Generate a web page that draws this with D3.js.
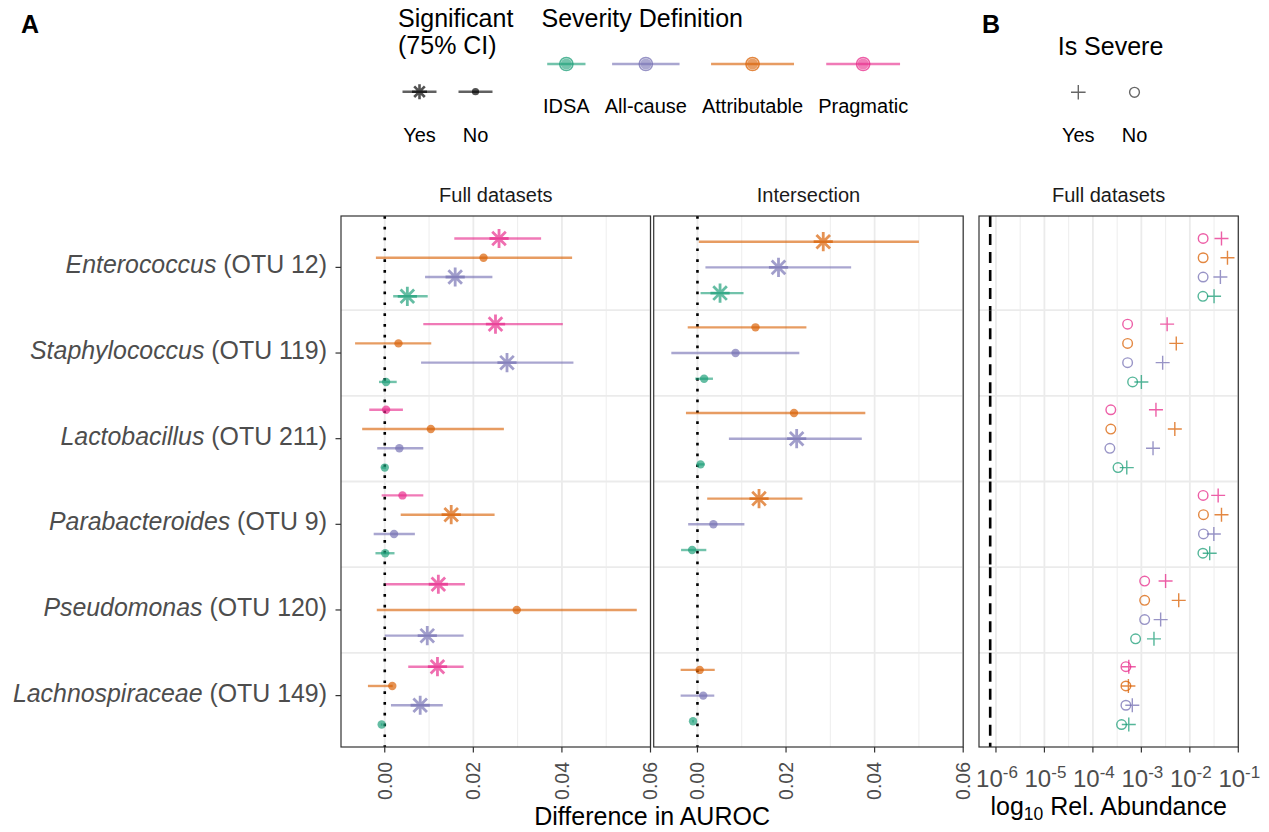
<!DOCTYPE html>
<html><head><meta charset="utf-8">
<script src="https://cdn.jsdelivr.net/npm/d3@7"></script>
<style>
body{margin:0;background:#fff}
svg{display:block}
text{font-family:"Liberation Sans",Arial,Helvetica,sans-serif}
</style>
</head><body>
<svg id="c" width="1269" height="832"></svg>
<script>
// ---------- data ----------
const categories = ["Enterococcus","Staphylococcus","Lactobacillus","Parabacteroides","Pseudomonas","Lachnospiraceae"];
const otuLabels = ["(OTU 12)","(OTU 119)","(OTU 211)","(OTU 9)","(OTU 120)","(OTU 149)"];
const severities = ["IDSA","All-cause","Attributable","Pragmatic"];
const severityColors = ["#1B9E77","#7570B3","#D95F02","#E7298A"];
const panelNamesA = ["Full datasets","Intersection"];
const panelNameB = "Full datasets";
const xTicksA = [0, 0.02, 0.04, 0.06];
const xTickLabelsA = ["0.00","0.02","0.04","0.06"];
const xMinorA = [0.01, 0.03, 0.05];
const xTicksB = [1e-6, 1e-5, 1e-4, 1e-3, 1e-2, 1e-1];
const xTickExpB = ["-6","-5","-4","-3","-2","-1"];
const sigLabels = ["Yes","No"];
const severeLabels = ["Yes","No"];
const detectionLimit = 7.6e-7;

// rows = categories, columns = IDSA, All-cause, Attributable, Pragmatic
const fullEst = [
  [0.0051, 0.0159, 0.0223, 0.0258],
  [0.0003, 0.0276, 0.0031, 0.0250],
  [0.0000, 0.0033, 0.0104, 0.0003],
  [0.0001, 0.0021, 0.0150, 0.0040],
  [null,   0.0096, 0.0298, 0.0121],
  [-0.0007,0.0080, 0.0017, 0.0119]
];
const fullLo = [
  [0.0019, 0.0091, -0.0020, 0.0157],
  [-0.0013,0.0082, -0.0067, 0.0087],
  [-0.0007,-0.0017,-0.0051,-0.0035],
  [-0.0021,-0.0025, 0.0036,-0.0007],
  [null,   0.0000, -0.0018, 0.0002],
  [-0.0009,0.0014, -0.0038, 0.0053]
];
const fullHi = [
  [0.0097, 0.0243, 0.0423, 0.0353],
  [0.0027, 0.0426, 0.0105, 0.0402],
  [0.0003, 0.0087, 0.0269, 0.0041],
  [0.0022, 0.0068, 0.0248, 0.0087],
  [null,   0.0178, 0.0569, 0.0181],
  [-0.0005,0.0131, 0.0018, 0.0178]
];
const fullSig = [
  [1,1,0,1],
  [0,1,0,1],
  [0,0,0,0],
  [0,0,1,0],
  [null,1,0,1],
  [0,1,0,1]
];
const intEst = [
  [0.0051, 0.0183, 0.0284, null],
  [0.0015, 0.0086, 0.0131, null],
  [0.0007, 0.0224, 0.0218, null],
  [-0.0012,0.0036, 0.0139, null],
  [null, null, null, null],
  [-0.0010,0.0013, 0.0005, null]
];
const intLo = [
  [0.0007, 0.0018, 0.0003, null],
  [-0.0005,-0.0059,-0.0022, null],
  [-0.0001, 0.0071,-0.0026, null],
  [-0.0037,-0.0021, 0.0022, null],
  [null, null, null, null],
  [-0.0012,-0.0038,-0.0038, null]
];
const intHi = [
  [0.0104, 0.0347, 0.0500, null],
  [0.0035, 0.0230, 0.0246, null],
  [0.0016, 0.0371, 0.0379, null],
  [0.0020, 0.0106, 0.0237, null],
  [null, null, null, null],
  [-0.0008,0.0038, 0.0039, null]
];
const intSig = [
  [1,1,1,null],
  [0,0,0,null],
  [0,1,0,null],
  [0,0,1,null],
  [null,null,null,null],
  [0,0,0,null]
];
// relative abundance (panel B): not severe (circles) / severe (plus)
const abundNo = [
  [0.0186, 0.0188, 0.0188, 0.0188],
  [6.6e-4, 5.2e-4, 5.2e-4, 5.2e-4],
  [3.3e-4, 2.24e-4, 2.34e-4, 2.34e-4],
  [0.0186, 0.0191, 0.0191, 0.0188],
  [7.6e-4, 1.17e-3, 1.17e-3, 1.17e-3],
  [3.9e-4, 4.8e-4, 4.8e-4, 4.8e-4]
];
const abundYes = [
  [0.0316, 0.0427, 0.0598, 0.0450],
  [1.0e-3, 2.75e-3, 5.25e-3, 3.4e-3],
  [5.0e-4, 1.74e-3, 4.9e-3, 2.0e-3],
  [0.0257, 0.0313, 0.0450, 0.0384],
  [1.82e-3, 2.5e-3, 5.9e-3, 3.16e-3],
  [5.5e-4, 6.5e-4, 5.4e-4, 5.5e-4]
];

// ---------- layout ----------
const svg = d3.select("#c");
const Y0 = 216, Y1 = 747;
const panelsX = [[341, 650.5], [653.7, 963.2]];
const panelBX = [979, 1238.3];
const GRID = "#EBEBEB", BORDER = "#333333", AXTXT = "#4D4D4D";
const FT = 25, FS = 20;

const yScale = d3.scalePoint().domain(categories).range([Y0, Y1]).padding(0.6);
const step = yScale.step();
const bounds = categories.slice(1).map((c, i) => (yScale(categories[i]) + yScale(c)) / 2);

function dodge(ci, n, j) {
  return yScale(categories[ci]) + (j - (n - 1) / 2) * (0.9 / n) * step;
}
function asteriskPath(r) {
  const d = r / Math.SQRT2;
  return `M${-r},0L${r},0M0,${-r}L0,${r}M${-d},${-d}L${d},${d}M${-d},${d}L${d},${-d}`;
}
function plusPath(r) { return `M${-r},0L${r},0M0,${-r}L0,${r}`; }

// ---------- panel A ----------
const dataSets = [
  {est: fullEst, lo: fullLo, hi: fullHi, sig: fullSig},
  {est: intEst, lo: intLo, hi: intHi, sig: intSig}
];
panelsX.forEach((px, pi) => {
  const x = d3.scaleLinear().domain([-0.00988, 0.06]).range(px);
  const g = svg.append("g");
  g.append("rect").attr("x", px[0]).attr("y", Y0).attr("width", px[1]-px[0]).attr("height", Y1-Y0).attr("fill", "#fff");
  g.selectAll(".mn").data(xMinorA).join("line").attr("x1", d=>x(d)).attr("x2", d=>x(d)).attr("y1", Y0).attr("y2", Y1).attr("stroke", GRID).attr("stroke-width", 0.9);
  g.selectAll(".mj").data(xTicksA).join("line").attr("x1", d=>x(d)).attr("x2", d=>x(d)).attr("y1", Y0).attr("y2", Y1).attr("stroke", GRID).attr("stroke-width", 1.8);
  g.selectAll(".hb").data(bounds).join("line").attr("x1", px[0]).attr("x2", px[1]).attr("y1", d=>d).attr("y2", d=>d).attr("stroke", GRID).attr("stroke-width", 1.8);
  // zero line
  g.append("line").attr("x1", x(0)).attr("x2", x(0)).attr("y1", Y0).attr("y2", Y1)
    .attr("stroke", "#000").attr("stroke-width", 2.6).attr("stroke-dasharray", "2.7 8.1");
  const ds = dataSets[pi];
  const rows = [];
  categories.forEach((c, ci) => {
    const present = [3,2,1,0].filter(si => ds.est[ci][si] !== null);
    present.forEach((si, j) => {
      rows.push({ci, si, y: dodge(ci, present.length, j), est: ds.est[ci][si], lo: ds.lo[ci][si], hi: ds.hi[ci][si], sig: ds.sig[ci][si]});
    });
  });
  g.selectAll(".rng").data(rows).join("line")
    .attr("x1", d=>x(d.lo)).attr("x2", d=>x(d.hi)).attr("y1", d=>d.y).attr("y2", d=>d.y)
    .attr("stroke", d=>severityColors[d.si]).attr("stroke-width", 2.4).attr("stroke-opacity", 0.62);
  g.selectAll(".pt").data(rows).join("path")
    .attr("transform", d=>`translate(${x(d.est)},${d.y})`)
    .attr("d", d=> d.sig ? asteriskPath(9.6) : d3.symbol(d3.symbolCircle, Math.PI*4.2*4.2)())
    .attr("fill", d=> d.sig ? "none" : severityColors[d.si])
    .attr("fill-opacity", 0.68)
    .attr("stroke", d=>severityColors[d.si]).attr("stroke-width", d=>d.sig ? 2.8 : 0)
    .attr("stroke-opacity", 0.68);
  g.append("rect").attr("x", px[0]).attr("y", Y0).attr("width", px[1]-px[0]).attr("height", Y1-Y0)
    .attr("fill", "none").attr("stroke", BORDER).attr("stroke-width", 1.2);
  svg.append("text").attr("x", (px[0]+px[1])/2).attr("y", 202).attr("text-anchor", "middle")
    .attr("font-size", FS).attr("fill", "#1A1A1A").text(panelNamesA[pi]);
  svg.selectAll(null).data(xTicksA).join("line").attr("x1", d=>x(d)).attr("x2", d=>x(d)).attr("y1", Y1).attr("y2", Y1+5.5)
    .attr("stroke", BORDER).attr("stroke-width", 1.2);
  svg.selectAll(null).data(xTicksA).join("text")
    .attr("transform", d=>`translate(${x(d)},762) rotate(-90)`)
    .attr("text-anchor", "end").attr("dy", "0.35em").attr("font-size", 19.5).attr("fill", AXTXT)
    .text((d,i)=>xTickLabelsA[i]);
});

// y axis labels
svg.selectAll(null).data(categories).join("line").attr("x1", 335.5).attr("x2", 341).attr("y1", d=>yScale(d)).attr("y2", d=>yScale(d))
  .attr("stroke", BORDER).attr("stroke-width", 1.2);
const yl = svg.selectAll(null).data(categories).join("text")
  .attr("x", 327).attr("y", d=>yScale(d)+6).attr("text-anchor", "end").attr("font-size", 24.9).attr("fill", AXTXT);
yl.append("tspan").attr("font-style", "italic").text(d=>d);
yl.append("tspan").text((d,i)=>" " + otuLabels[i]);

svg.append("text").attr("x", (panelsX[0][0]+panelsX[1][1])/2).attr("y", 825).attr("text-anchor", "middle")
  .attr("font-size", FT).attr("fill", "#000").text("Difference in AUROC");

// ---------- panel B ----------
{
  const x = d3.scaleLog().domain([Math.pow(10, -6.35), 0.1]).range(panelBX);
  const g = svg.append("g");
  const minor = xTicksB.slice(0, -1).map(d => d * Math.sqrt(10));
  g.selectAll(".mn").data(minor).join("line").attr("x1", d=>x(d)).attr("x2", d=>x(d)).attr("y1", Y0).attr("y2", Y1).attr("stroke", GRID).attr("stroke-width", 0.9);
  g.selectAll(".mj").data(xTicksB).join("line").attr("x1", d=>x(d)).attr("x2", d=>x(d)).attr("y1", Y0).attr("y2", Y1).attr("stroke", GRID).attr("stroke-width", 1.8);
  g.selectAll(".hb").data(bounds).join("line").attr("x1", panelBX[0]).attr("x2", panelBX[1]).attr("y1", d=>d).attr("y2", d=>d).attr("stroke", GRID).attr("stroke-width", 1.8);
  const segs = categories.map((c, i) => [i === 0 ? Y0 : bounds[i-1], i === categories.length-1 ? Y1 : bounds[i]]);
  g.selectAll(".dl").data(segs).join("line").attr("x1", x(detectionLimit)).attr("x2", x(detectionLimit))
    .attr("y1", d=>d[0]).attr("y2", d=>d[1]).attr("stroke", "#000").attr("stroke-width", 2.6).attr("stroke-dasharray", "11 7");
  const rows = [];
  categories.forEach((c, ci) => {
    [3,2,1,0].forEach((si, j) => {
      rows.push({ci, si, y: dodge(ci, 4, j), no: abundNo[ci][si], yes: abundYes[ci][si]});
    });
  });
  g.selectAll(".cn").data(rows).join("circle").attr("cx", d=>x(d.no)).attr("cy", d=>d.y).attr("r", 4.8)
    .attr("fill", "none").attr("stroke", d=>severityColors[d.si]).attr("stroke-width", 1.4).attr("stroke-opacity", 0.75);
  g.selectAll(".py").data(rows).join("path").attr("transform", d=>`translate(${x(d.yes)},${d.y})`)
    .attr("d", plusPath(7)).attr("fill", "none").attr("stroke", d=>severityColors[d.si]).attr("stroke-width", 1.4).attr("stroke-opacity", 0.75);
  g.append("rect").attr("x", panelBX[0]).attr("y", Y0).attr("width", panelBX[1]-panelBX[0]).attr("height", Y1-Y0)
    .attr("fill", "none").attr("stroke", BORDER).attr("stroke-width", 1.2);
  svg.append("text").attr("x", (panelBX[0]+panelBX[1])/2).attr("y", 202).attr("text-anchor", "middle")
    .attr("font-size", FS).attr("fill", "#1A1A1A").text(panelNameB);
  svg.selectAll(null).data(xTicksB).join("line").attr("x1", d=>x(d)).attr("x2", d=>x(d)).attr("y1", Y1).attr("y2", Y1+5.5)
    .attr("stroke", BORDER).attr("stroke-width", 1.2);
  const tl = svg.selectAll(null).data(xTicksB).join("text").attr("x", d=>x(d)+1).attr("y", 786.5)
    .attr("text-anchor", "middle").attr("font-size", 24).attr("fill", AXTXT);
  tl.append("tspan").text("10");
  tl.append("tspan").attr("font-size", 17).attr("dy", -9).text((d,i)=>xTickExpB[i]);
  const t = svg.append("text").attr("x", (panelBX[0]+panelBX[1])/2).attr("y", 815).attr("text-anchor", "middle")
    .attr("font-size", FT).attr("fill", "#000");
  t.append("tspan").text("log");
  t.append("tspan").attr("font-size", 17.5).attr("dy", 5).text("10");
  t.append("tspan").attr("dy", -5).text(" Rel. Abundance");
}

// ---------- legends ----------
svg.append("text").attr("x", 21).attr("y", 33).attr("font-size", FT).attr("font-weight", "bold").text("A");
svg.append("text").attr("x", 982).attr("y", 33).attr("font-size", FT).attr("font-weight", "bold").text("B");

// Significant legend
svg.append("text").attr("x", 398).attr("y", 27.3).attr("font-size", FT).text("Significant");
svg.append("text").attr("x", 398).attr("y", 54.3).attr("font-size", FT).text("(75% CI)");
const sigCx = [419.5, 475.5];
sigCx.forEach((cx, i) => {
  svg.append("line").attr("x1", cx-17).attr("x2", cx+17).attr("y1", 91.7).attr("y2", 91.7)
    .attr("stroke", "#000").attr("stroke-opacity", 0.62).attr("stroke-width", 2.4);
  if (i === 0) {
    svg.append("path").attr("transform", `translate(${cx},91.7)`).attr("d", asteriskPath(7.5))
      .attr("fill", "none").attr("stroke", "#000").attr("stroke-opacity", 0.68).attr("stroke-width", 2.6);
  } else {
    svg.append("circle").attr("cx", cx).attr("cy", 91.7).attr("r", 3.6).attr("fill", "#000").attr("fill-opacity", 0.68);
  }
  svg.append("text").attr("x", cx).attr("y", 141.7).attr("text-anchor", "middle").attr("font-size", FS).text(sigLabels[i]);
});

// Severity legend
svg.append("text").attr("x", 541.5).attr("y", 27.3).attr("font-size", FT).text("Severity Definition");
let lx = 543;
severities.forEach((s, i) => {
  const tx = svg.append("text").attr("y", 113.3).attr("text-anchor", "middle").attr("font-size", FS).text(s);
  const w = tx.node().getComputedTextLength();
  const cx = lx + w / 2;
  tx.attr("x", cx);
  const half = Math.max(18.5, w * 0.41);
  const col = severityColors[i];
  svg.append("line").attr("x1", cx-half).attr("x2", cx+half).attr("y1", 64).attr("y2", 64)
    .attr("stroke", col).attr("stroke-opacity", 0.62).attr("stroke-width", 2.4);
  svg.append("circle").attr("cx", cx).attr("cy", 64).attr("r", 5.6).attr("fill", col).attr("fill-opacity", 0.6);
  svg.append("circle").attr("cx", cx).attr("cy", 64).attr("r", 6.6).attr("fill", "none").attr("stroke", col)
    .attr("stroke-opacity", 0.75).attr("stroke-width", 1.5);
  lx += w + 15;
});

// Is Severe legend
svg.append("text").attr("x", 1057.7).attr("y", 55).attr("font-size", FT).text("Is Severe");
const sevCx = [1078.3, 1134.5];
svg.append("path").attr("transform", `translate(${sevCx[0]},92.3)`).attr("d", plusPath(7.3))
  .attr("fill", "none").attr("stroke", "#000").attr("stroke-opacity", 0.6).attr("stroke-width", 1.4);
svg.append("circle").attr("cx", sevCx[1]).attr("cy", 92.3).attr("r", 4.9).attr("fill", "none")
  .attr("stroke", "#000").attr("stroke-opacity", 0.6).attr("stroke-width", 1.4);
sevCx.forEach((cx, i) => {
  svg.append("text").attr("x", cx).attr("y", 141.7).attr("text-anchor", "middle").attr("font-size", FS).text(severeLabels[i]);
});
</script>
</body></html>
